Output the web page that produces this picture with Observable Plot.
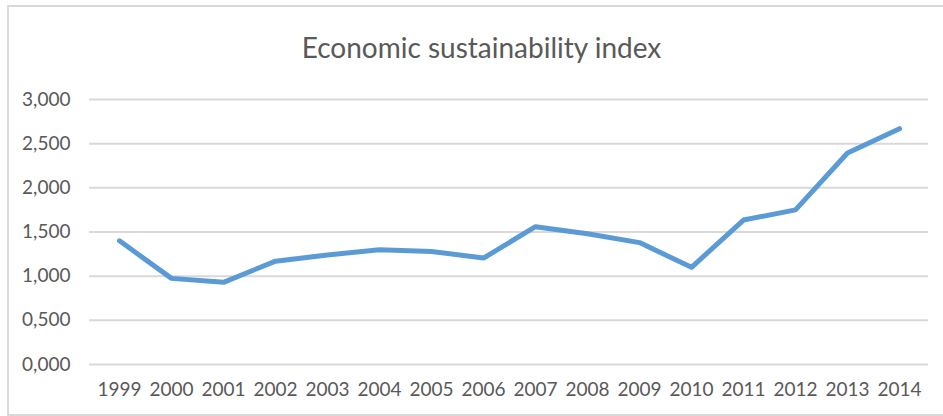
<!DOCTYPE html>
<html>
<head>
<meta charset="utf-8">
<script src="https://cdn.jsdelivr.net/npm/d3@7"></script>
<script src="https://cdn.jsdelivr.net/npm/@observablehq/plot@0.6"></script>
<style>
  html, body { margin: 0; padding: 0; background: #fff; overflow: hidden; }
  body { width: 943px; height: 416px; position: relative; font-family: Lato, "Open Sans", sans-serif; }
  #frame { position: absolute; left: 7px; top: 5px; width: 960px; height: 411px; box-sizing: border-box;
           border: 2px solid #d9d9d9; pointer-events: none; }
  #title { height: 70px; box-sizing: border-box; padding-left: 20px; padding-top: 33px; text-align: center;
           font-size: 28px; line-height: 28px; color: #595959; white-space: nowrap; }
  #chart svg { display: block; }
</style>
</head>
<body>
<div id="title">Economic sustainability index</div>
<div id="chart"></div>
<div id="frame"></div>
<script>
const years = ["1999","2000","2001","2002","2003","2004","2005","2006","2007","2008","2009","2010","2011","2012","2013","2014"];
const values = [1.40, 0.975, 0.93, 1.17, 1.24, 1.30, 1.28, 1.205, 1.56, 1.48, 1.38, 1.10, 1.635, 1.75, 2.395, 2.67];
const yTicks = [0, 0.5, 1, 1.5, 2, 2.5, 3];

const data = years.map((year, i) => ({year, value: values[i]}));
const fmt = d => d.toFixed(3).replace(".", ",");

const plot = Plot.plot({
  width: 943,
  height: 346,
  marginLeft: 89,
  marginRight: 15,
  marginTop: 29,
  marginBottom: 52,
  style: {fontFamily: "Lato, 'Open Sans', sans-serif", fontSize: "19px", color: "#595959", background: "#fff"},
  x: {type: "point", domain: years, padding: 0.5, label: null},
  y: {domain: [0, 3], label: null},
  marks: [
    Plot.gridY(yTicks, {stroke: "#d9d9d9", strokeOpacity: 1, strokeWidth: 2}),
    Plot.axisY(yTicks, {tickSize: 0, tickPadding: 19, tickFormat: fmt, fill: "#595959", label: null}),
    Plot.axisX({tickSize: 0, tickPadding: 18, fill: "#595959", label: null}),
    Plot.line(data, {x: "year", y: "value", stroke: "#5b9bd5", strokeWidth: 5, strokeLinejoin: "round", strokeLinecap: "round"})
  ]
});
document.getElementById("chart").appendChild(plot);
</script>
</body>
</html>
